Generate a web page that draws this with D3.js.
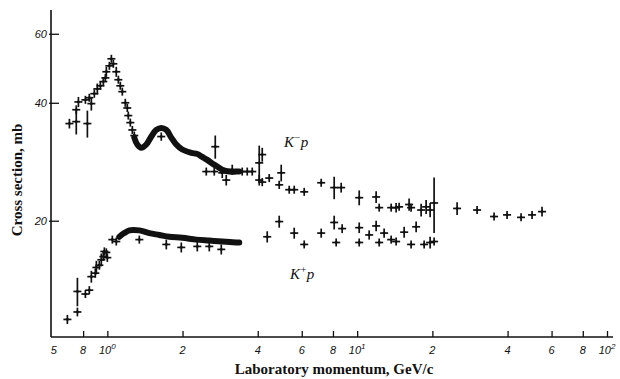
<!DOCTYPE html>
<html>
<head>
<meta charset="utf-8">
<script src="https://cdn.jsdelivr.net/npm/d3@7"></script>
<style>
  body { margin: 0; background: #fff; }
  svg { display: block; }
</style>
</head>
<body>
<script>
let w = 620;
let h = 379;

// K-p : [momentum GeV/c, cross section mb, error mb]
var kmPoints = [
  [0.705, 35.4, 1.0], [0.751, 35.8, 2.6], [0.832, 35.4, 2.8], [0.751, 38.4, 1.0],
  [0.766, 40.2, 1.2], [0.817, 40.7, 0.6], [0.847, 41.2, 0.8], [0.863, 39.8, 1.6],
  [0.887, 42.2, 1.0], [0.912, 43.4, 1.4], [0.938, 44.2, 1.0], [0.964, 45.3, 1.2],
  [0.982, 46.3, 1.0], [0.991, 48.0, 1.4], [1.019, 49.7, 1.0], [1.038, 51.8, 0.8],
  [1.057, 50.3, 1.0], [1.086, 48.0, 1.4], [1.107, 45.8, 1.0], [1.127, 44.2, 1.0],
  [1.148, 42.7, 0.8], [1.180, 40.0, 0.8], [1.202, 38.8, 0.6], [1.213, 37.1, 0.8],
  [1.236, 35.6, 0.6], [1.259, 34.1, 0.8], [1.282, 33.0, 0.6], [1.644, 32.8, 0.8],
  [2.704, 30.9, 2.1], [2.489, 26.7, 0.6], [2.679, 26.7, 0.6], [2.884, 26.5, 0.8],
  [2.992, 25.4, 0.8], [3.162, 27.0, 0.8], [3.467, 26.7, 0.5], [3.631, 26.7, 0.5],
  [3.802, 26.7, 0.5], [4.055, 28.1, 3.0], [4.169, 29.5, 1.2], [4.055, 25.4, 0.8],
  [4.169, 25.1, 0.6], [4.446, 25.7, 0.6], [4.875, 24.7, 0.6], [4.966, 26.5, 1.3],
  [5.346, 24.0, 0.4], [5.598, 24.0, 0.4], [6.138, 23.7, 0.4], [7.178, 25.0, 0.5],
  [8.091, 24.3, 1.6], [8.630, 24.3, 0.7], [10.19, 22.9, 1.0], [11.91, 23.0, 0.8],
  [12.25, 21.6, 0.5], [13.68, 21.6, 0.5], [14.32, 21.6, 0.6], [14.72, 21.7, 0.4],
  [16.14, 22.0, 0.8], [16.44, 21.6, 0.5], [18.03, 21.3, 0.8], [18.88, 21.7, 0.9],
  [19.59, 21.3, 0.9], [20.32, 22.2, 3.6], [25.12, 21.5, 0.8], [30.20, 21.3, 0.4],
  [35.32, 20.5, 0.3], [39.81, 20.7, 0.3], [45.29, 20.4, 0.3], [50.12, 20.7, 0.4],
  [54.95, 21.1, 0.6]
];

// dense K-p measurements, drawn as a thick band
var kmBand = [
  [1.282, 32.6], [1.318, 31.3], [1.368, 30.7], [1.432, 31.3], [1.500, 32.8],
  [1.570, 34.1], [1.644, 34.5], [1.722, 34.1], [1.803, 32.6], [1.888, 31.3],
  [1.995, 30.4], [2.168, 29.8], [2.291, 29.6], [2.399, 29.1], [2.512, 28.6],
  [2.630, 28.0], [2.754, 27.5], [2.884, 27.0], [3.076, 26.7], [3.281, 26.7],
  [3.373, 26.7]
];

// K+p
var kpPoints = [
  [0.692, 11.2, 0.3], [0.759, 11.7, 0.3], [0.759, 13.2, 1.1], [0.817, 13.0, 0.3],
  [0.847, 13.3, 0.3], [0.863, 14.4, 0.5], [0.895, 14.7, 0.4], [0.904, 15.2, 0.6],
  [0.929, 15.4, 0.4], [0.946, 15.9, 0.6], [0.964, 16.2, 0.4], [0.973, 16.7, 0.4],
  [0.991, 16.6, 0.4], [1.0, 16.1, 0.4], [1.047, 17.9, 0.4], [1.086, 17.7, 0.4],
  [1.343, 17.9, 0.3], [1.722, 17.4, 0.5], [1.977, 17.1, 0.5], [2.291, 17.2, 0.5],
  [2.559, 17.2, 0.5], [2.858, 16.9, 0.5], [4.365, 18.2, 0.6], [4.875, 19.9, 0.7],
  [5.598, 18.6, 0.6], [6.138, 17.4, 0.3], [7.178, 18.6, 0.5], [8.091, 19.8, 0.8],
  [8.241, 17.6, 0.3], [8.710, 19.1, 0.5], [10.19, 19.2, 0.6], [10.19, 17.6, 0.3],
  [11.17, 18.4, 0.5], [11.91, 19.4, 0.6], [12.25, 17.6, 0.4], [12.82, 18.6, 0.5],
  [13.68, 17.9, 0.4], [14.32, 17.7, 0.3], [15.42, 18.7, 0.6], [16.44, 17.4, 0.3],
  [17.22, 19.3, 0.6], [18.54, 17.4, 0.3], [19.59, 17.6, 0.6], [20.32, 17.7, 0.4]
];

var kpBand = [
  [1.117, 18.2], [1.169, 18.6], [1.225, 18.9], [1.343, 18.9], [1.472, 18.6],
  [1.614, 18.4], [1.770, 18.2], [1.995, 18.1], [2.270, 17.9], [2.559, 17.8],
  [2.884, 17.7], [3.281, 17.6], [3.373, 17.6]
];

var xTickValues = [0.8, 1, 2, 4, 6, 8, 10, 20, 40, 60, 80, 100];
var xTickLabels = [["5", ""], ["8", ""], ["10", "0"], ["2", ""], ["4", ""], ["6", ""], ["8", ""],
                   ["10", "1"], ["2", ""], ["4", ""], ["6", ""], ["8", ""], ["10", "2"]];
var xLabelValues = [0.6, 0.8, 1, 2, 4, 6, 8, 10, 20, 40, 60, 80, 100];
var yTickValues = [20, 40, 60];

let svg = d3.select("body")
    .append("svg")
    .attr("width", w)
    .attr("height", h);

svg.append("rect").attr("width", w).attr("height", h).attr("fill", "#fff");

let x = d3.scaleLog().domain([0.595, 100]).range([51, 607]);
let y = d3.scaleLog().domain([10.1, 69]).range([337, 10]);

// axes
let xAxis = svg.append("g")
    .attr("transform", "translate(0,337)")
    .call(d3.axisBottom(x).tickValues(xTickValues).tickSizeInner(-6).tickSizeOuter(0).tickFormat(""));
xAxis.select(".domain").remove();
xAxis.selectAll("line").attr("stroke", "#111").attr("stroke-width", 1.3);

svg.append("line")
    .attr("x1", 51).attr("x2", 613).attr("y1", 337).attr("y2", 337)
    .attr("stroke", "#111").attr("stroke-width", 1.6);

let yAxis = svg.append("g")
    .attr("transform", "translate(51,0)")
    .call(d3.axisLeft(y).tickValues(yTickValues).tickSizeInner(-8).tickSizeOuter(0).tickPadding(4)
        .tickFormat(d3.format("d")));
yAxis.select(".domain").remove();
yAxis.selectAll("line").attr("stroke", "#111").attr("stroke-width", 1.3).attr("x1", -2);
yAxis.selectAll("text")
    .attr("font-family", "Liberation Sans, sans-serif")
    .attr("font-style", "italic")
    .attr("font-size", 11)
    .attr("fill", "#111");

svg.append("line")
    .attr("x1", 51).attr("x2", 51).attr("y1", 10).attr("y2", 337)
    .attr("stroke", "#111").attr("stroke-width", 1.6);

// x tick labels with superscripts
let lab = svg.append("g")
    .attr("font-family", "Liberation Sans, sans-serif")
    .attr("font-style", "italic")
    .attr("font-size", 11)
    .attr("fill", "#111");
xLabelValues.forEach((v, i) => {
    let t = lab.append("text")
        .attr("x", x(v) + (i == 0 ? 2 : 0))
        .attr("y", 354)
        .attr("text-anchor", "middle");
    t.append("tspan").text(xTickLabels[i][0]);
    if (xTickLabels[i][1]) {
        t.append("tspan").attr("dy", -5).attr("font-size", 8).text(xTickLabels[i][1]);
    }
});

// titles
svg.append("text")
    .attr("x", 334)
    .attr("y", 374)
    .attr("text-anchor", "middle")
    .attr("font-family", "Liberation Serif, serif")
    .attr("font-weight", "bold")
    .attr("font-size", 15)
    .attr("fill", "#111")
    .text("Laboratory momentum, GeV/c");

svg.append("text")
    .attr("transform", "translate(22,180) rotate(-90)")
    .attr("text-anchor", "middle")
    .attr("font-family", "Liberation Serif, serif")
    .attr("font-weight", "bold")
    .attr("font-size", 15)
    .attr("fill", "#111")
    .text("Cross section, mb");

// bands
let line = d3.line()
    .x(d => x(d[0]))
    .y(d => y(d[1]))
    .curve(d3.curveCatmullRom);

[kmBand, kpBand].forEach(b => {
    svg.append("path")
        .attr("d", line(b))
        .attr("fill", "none")
        .attr("stroke", "#111")
        .attr("stroke-width", 6)
        .attr("stroke-linecap", "round")
        .attr("stroke-linejoin", "round");
});

// crosses with error bars
function drawCrosses(data) {
    let g = svg.append("g").attr("stroke", "#111").attr("stroke-width", 1.7);
    g.selectAll("line.h")
        .data(data)
        .enter()
        .append("line")
        .attr("x1", d => x(d[0]) - 4)
        .attr("x2", d => x(d[0]) + 4)
        .attr("y1", d => y(d[1]))
        .attr("y2", d => y(d[1]));
    g.selectAll("line.v")
        .data(data)
        .enter()
        .append("line")
        .attr("x1", d => x(d[0]))
        .attr("x2", d => x(d[0]))
        .attr("y1", d => Math.min(y(d[1] + d[2]), y(d[1]) - 4))
        .attr("y2", d => Math.max(y(d[1] - d[2]), y(d[1]) + 4));
    svg.append("g").selectAll("circle")
        .data(data)
        .enter()
        .append("circle")
        .attr("cx", d => x(d[0]))
        .attr("cy", d => y(d[1]))
        .attr("r", 1.4)
        .attr("fill", "#111");
}
drawCrosses(kmPoints);
drawCrosses(kpPoints);

// series labels
let k1 = svg.append("text")
    .attr("x", 284).attr("y", 147)
    .attr("font-family", "Liberation Serif, serif")
    .attr("font-style", "italic")
    .attr("font-size", 15)
    .attr("fill", "#111");
k1.append("tspan").text("K");
k1.append("tspan").attr("dy", -6).attr("font-size", 10).text("\u2212");
k1.append("tspan").attr("dy", 6).text("p");

let k2 = svg.append("text")
    .attr("x", 290).attr("y", 279)
    .attr("font-family", "Liberation Serif, serif")
    .attr("font-style", "italic")
    .attr("font-size", 15)
    .attr("fill", "#111");
k2.append("tspan").text("K");
k2.append("tspan").attr("dy", -6).attr("font-size", 10).text("+");
k2.append("tspan").attr("dy", 6).text("p");
</script>
</body>
</html>
